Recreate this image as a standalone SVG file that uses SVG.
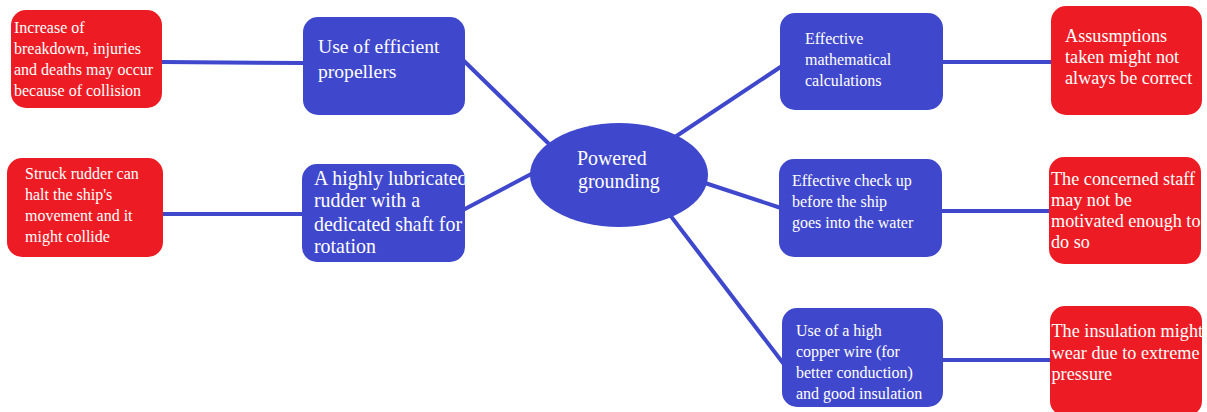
<svg xmlns="http://www.w3.org/2000/svg" width="1207" height="412" viewBox="0 0 1207 412">
  <style>
    .blue { fill: #3f48cc; }
    .red { fill: #ed1c24; }
    text { fill: #ffffff; font-family: 'Liberation Serif', 'DejaVu Serif', serif; }
    .s16 { font-size: 16px; }
    .s18 { font-size: 18.2px; }
    .s19 { font-size: 19.6px; }
    .s20 { font-size: 19.9px; }
    .link { stroke: #3f48cc; stroke-width: 4; stroke-linecap: round; fill: none; }
  </style>
  <defs>
    <clipPath id="clipB2"><rect x="302" y="164" width="163" height="98" rx="15"/></clipPath>
    <clipPath id="clipR4"><rect x="1049" y="157" width="152" height="107" rx="15"/></clipPath>
    <clipPath id="clipR5"><rect x="1050" y="306" width="152" height="106" rx="15"/></clipPath>
  </defs>
  <rect width="1207" height="412" fill="#ffffff"/>

  <!-- connectors -->
  <g id="connectors">
    <line class="link" x1="162" y1="62" x2="305" y2="63"/>
    <line class="link" x1="163" y1="214" x2="304" y2="214"/>
    <line class="link" x1="463" y1="60" x2="548" y2="143"/>
    <line class="link" x1="463" y1="210" x2="535" y2="172"/>
    <line class="link" x1="675" y1="137" x2="782" y2="66"/>
    <line class="link" x1="705" y1="183" x2="781" y2="208"/>
    <line class="link" x1="670" y1="215" x2="783" y2="363"/>
    <line class="link" x1="941" y1="62" x2="1055" y2="62"/>
    <line class="link" x1="940" y1="211" x2="1051" y2="211"/>
    <line class="link" x1="941" y1="360" x2="1055" y2="360"/>
  </g>

  <!-- central topic -->
  <g id="center">
    <ellipse class="blue" cx="619" cy="175" rx="89" ry="52"/>
    <text class="s20" x="577" y="165">Powered</text>
    <text class="s20" x="578" y="188">grounding</text>
  </g>

  <!-- left branches -->
  <g id="propellers">
    <rect class="blue" x="303" y="17" width="162" height="98" rx="15"/>
    <text class="s19" x="318" y="53">Use of efficient</text>
    <text class="s19" x="318" y="78">propellers</text>
  </g>
  <g id="propellers-risk">
    <rect class="red" x="11" y="10" width="151" height="98" rx="15"/>
    <text class="s16" x="14" y="33">Increase of</text>
    <text class="s16" x="14" y="54">breakdown, injuries</text>
    <text class="s16" x="14" y="75">and deaths may occur</text>
    <text class="s16" x="14" y="96">because of collision</text>
  </g>
  <g id="rudder">
    <rect class="blue" x="302" y="164" width="163" height="98" rx="15"/>
    <g clip-path="url(#clipB2)">
      <text class="s20" x="314" y="185">A highly lubricated</text>
      <text class="s20" x="314" y="207">rudder with a</text>
      <text class="s20" x="314" y="231">dedicated shaft for</text>
      <text class="s20" x="314" y="253">rotation</text>
    </g>
  </g>
  <g id="rudder-risk">
    <rect class="red" x="7" y="158" width="156" height="99" rx="15"/>
    <text class="s16" x="25" y="179">Struck rudder can</text>
    <text class="s16" x="25" y="200">halt the ship's</text>
    <text class="s16" x="25" y="221">movement and it</text>
    <text class="s16" x="25" y="242">might collide</text>
  </g>

  <!-- right branches -->
  <g id="calculations">
    <rect class="blue" x="780" y="13" width="163" height="97" rx="15"/>
    <text class="s16" x="805" y="44">Effective</text>
    <text class="s16" x="805" y="65">mathematical</text>
    <text class="s16" x="805" y="86">calculations</text>
  </g>
  <g id="calculations-risk">
    <rect class="red" x="1051" y="6" width="151" height="109" rx="15"/>
    <text class="s18" x="1065" y="42">Assusmptions</text>
    <text class="s18" x="1065" y="63">taken might not</text>
    <text class="s18" x="1065" y="84">always be correct</text>
  </g>
  <g id="checkup">
    <rect class="blue" x="779" y="159" width="163" height="98" rx="15"/>
    <text class="s16" x="792" y="186">Effective check up</text>
    <text class="s16" x="792" y="207">before the ship</text>
    <text class="s16" x="792" y="228">goes into the water</text>
  </g>
  <g id="checkup-risk">
    <rect class="red" x="1049" y="157" width="152" height="107" rx="15"/>
    <g clip-path="url(#clipR4)">
      <text class="s18" x="1051" y="185">The concerned staff</text>
      <text class="s18" x="1051" y="206">may not be</text>
      <text class="s18" x="1051" y="227">motivated enough to</text>
      <text class="s18" x="1051" y="248">do so</text>
    </g>
  </g>
  <g id="copper-wire">
    <rect class="blue" x="782" y="308" width="161" height="99" rx="15"/>
    <text class="s16" x="796" y="336">Use of a high</text>
    <text class="s16" x="796" y="357">copper wire (for</text>
    <text class="s16" x="796" y="378">better conduction)</text>
    <text class="s16" x="796" y="399">and good insulation</text>
  </g>
  <g id="copper-wire-risk">
    <rect class="red" x="1050" y="306" width="152" height="110" rx="15"/>
    <g clip-path="url(#clipR5)">
      <text class="s18" x="1051.5" y="337">The insulation might</text>
      <text class="s18" x="1051.5" y="359">wear due to extreme</text>
      <text class="s18" x="1051.5" y="380">pressure</text>
    </g>
  </g>
</svg>
